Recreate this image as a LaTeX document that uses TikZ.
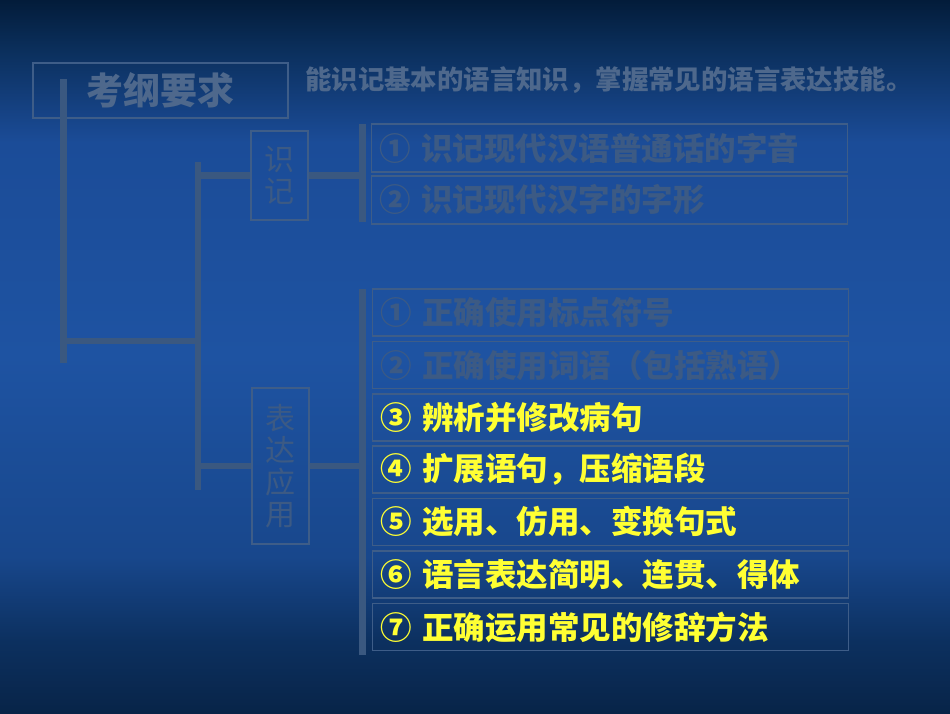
\documentclass[tikz,border=0pt]{standalone}
\usepackage{fontspec}
\newfontfamily\cjk{Noto Sans CJK SC}
\definecolor{bgtop}{RGB}{3,28,58}
\definecolor{bgtopb}{RGB}{11,47,92}
\definecolor{bgupper}{RGB}{27,76,152}
\definecolor{bgmid}{RGB}{30,83,162}
\definecolor{bglower}{RGB}{24,71,140}
\definecolor{bgbotb}{RGB}{12,48,95}
\definecolor{bgbot}{RGB}{8,36,72}
\definecolor{treeline}{RGB}{58,88,128}
\definecolor{boxline}{RGB}{62,93,136}
\definecolor{dimtext}{RGB}{60,90,132}
\definecolor{headtext}{RGB}{78,104,140}
\definecolor{hilite}{RGB}{255,255,51}
\pgfdeclareverticalshading{slidebg}{100bp}{color(0bp)=(bgbot); color(25bp)=(bgbot); color(30bp)=(bgbotb); color(36bp)=(bglower); color(50bp)=(bgmid); color(65bp)=(bgupper); color(71.5bp)=(bgtopb); color(75bp)=(bgtop); color(100bp)=(bgtop)}
\tikzset{
  frame/.style={draw=boxline, line width=1.2pt, inner sep=0pt},
  trunk/.style={draw=treeline, line width=6.5pt},
  itembox/.style={frame, minimum height=47pt, text width=460pt, align=left, inner xsep=8pt, inner ysep=0pt,
    font=\cjk\bfseries\fontsize{31.5}{34}\selectfont},
  dimitem/.style={itembox, text=dimtext},
  hotitem/.style={itembox, text=hilite},
  vlabel/.style={frame, minimum width=57pt, align=center, text=dimtext,
    font=\cjk\fontsize{30}{32}\selectfont}
}
\begin{document}
\begin{tikzpicture}[x=1pt,y=-1pt]
\useasboundingbox (0,0) rectangle (950,713);
\fill[shading=slidebg] (0,0) rectangle (950,713);

% title box and statement
\node[frame, minimum width=255pt, minimum height=55pt, text=headtext,
      font=\cjk\bfseries\fontsize{37}{40}\selectfont] (kg) at (160.5,90.5) {考纲要求};
\node[anchor=west, inner sep=0pt, text=headtext,
      font=\cjk\bfseries\fontsize{26.4}{28}\selectfont] (goal) at (305,80) {能识记基本的语言知识，掌握常见的语言表达技能。};

% second level boxes
\node[vlabel, minimum height=89pt] (sj) at (279.5,175.5) {识\\记};
\node[vlabel, minimum height=156pt] (by) at (280.5,466) {表\\达\\应\\用};

% items of 识记
\node[dimitem, minimum height=48pt] (s1) at (609.5,148) {① 识记现代汉语普通话的字音};
\node[dimitem, minimum height=48pt] (s2) at (609.5,200) {② 识记现代汉字的字形};

% items of 表达应用
\node[dimitem] (e1) at (610.5,312.5) {① 正确使用标点符号};
\node[dimitem] (e2) at (610.5,365) {② 正确使用词语（包括熟语）};
\node[hotitem] (e3) at (610.5,417.5) {③ 辨析并修改病句};
\node[hotitem] (e4) at (610.5,469.5) {④ 扩展语句，压缩语段};
\node[hotitem] (e5) at (610.5,522) {⑤ 选用、仿用、变换句式};
\node[hotitem] (e6) at (610.5,574.5) {⑥ 语言表达简明、连贯、得体};
\node[hotitem] (e7) at (610.5,627) {⑦ 正确运用常见的修辞方法};

% tree connectors
\coordinate (trtop) at (63.5,79);
\coordinate (trbot) at (63.5,363);
\coordinate (trjoin) at (63.5,341);
\coordinate (midjoin) at (198,341);
\coordinate (midtop) at (198,162);
\coordinate (midbot) at (198,490);
\coordinate (sjbar) at (362.5,175.5);
\coordinate (sjbartop) at (362.5,124);
\coordinate (sjbarbot) at (362.5,222);
\coordinate (bybar) at (362.5,466);
\coordinate (bybartop) at (362.5,289);
\coordinate (bybarbot) at (362.5,655);

\draw[trunk] (trtop) -- (trbot);
\draw[trunk] (trjoin) -- (midjoin);
\draw[trunk] (midtop) -- (midbot);
\draw[trunk] (sj.west -| midtop) -- (sj.west);
\draw[trunk] (sj.east) -- (sjbar);
\draw[trunk] (sjbartop) -- (sjbarbot);
\draw[trunk] (by.west -| midtop) -- (by.west);
\draw[trunk] (by.east) -- (bybar);
\draw[trunk] (bybartop) -- (bybarbot);
\end{tikzpicture}
\end{document}
